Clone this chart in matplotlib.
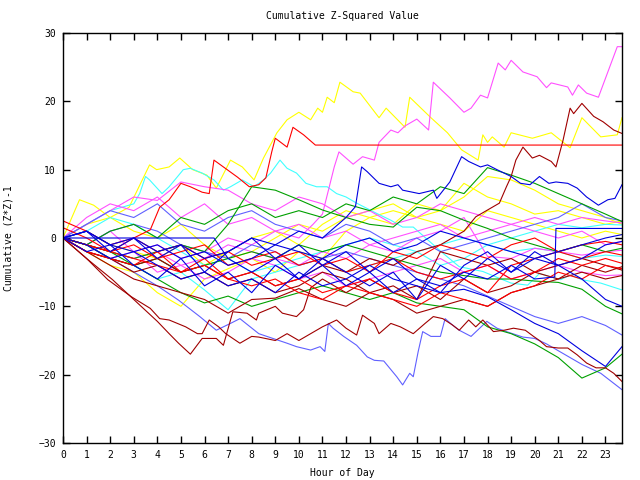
import matplotlib
matplotlib.use("Agg")
import matplotlib.pyplot as plt

# common hourly grid for the plainer series
hours = list(range(24)) + [23.7]

# --- series (values are cumulative (Z*Z)-1) ---
yellow_peak_hours = [0, 0.7, 1.3, 2, 2.8, 3.46, 3.67, 3.97, 4.5, 4.95, 5.5, 6.1, 6.5, 7.1, 7.6,
                     8.1, 8.5, 9.07, 9.5, 10, 10.5, 10.8, 11, 11.2, 11.5, 11.74, 12.3, 12.6, 13.4,
                     13.7, 14.5, 14.7, 15.6, 16.3, 16.9, 17.6, 17.8, 18, 18.2, 18.7, 19, 19.9, 20.7,
                     21.5, 22, 22.8, 23.5, 23.7]
yellow_peak = [0, 5.6, 4.8, 3, 4.5, 9.2, 10.7, 10, 10.4, 11.7, 10, 9.2, 7.3, 11.4, 10.4,
               8.5, 11.7, 15.4, 17.3, 18.4, 17.3, 19, 18.4, 20.6, 19.8, 22.8, 21.4, 21.2, 17.6,
               19, 16.2, 20.6, 17.6, 15.4, 12.9, 11.4, 15.1, 14, 14.8, 13.3, 15.4, 14.6, 15.4,
               13.2, 17.6, 14.8, 15.1, 17.6]

magenta_top_hours = [0, 1, 2, 3, 4, 5, 6, 7, 8, 9, 10, 10.6, 11, 11.5, 11.7, 12.3, 12.7, 13.2,
                     13.4, 13.9, 14.2, 14.5, 15.0, 15.5, 15.7, 16.4, 17.0, 17.3, 17.7, 18.0, 18.45,
                     18.75, 19.0, 19.5, 20.1, 20.5, 20.7, 21.4, 21.6, 21.85, 22.2, 22.7, 23.5, 23.7]
magenta_top = [0, -1, 1, -2, -1, -3, -2, 0, -1, 1, 0, 2, 3.5, 10.4, 12.6, 10.8, 11.9, 11.4,
               14, 15.8, 15.4, 16.4, 17.4, 15.8, 22.8, 20.5, 18.4, 19, 20.9, 20.5, 25.6,
               24.6, 26, 24.3, 23.6, 22, 22.7, 22.1, 20.9, 22.4, 21.2, 20.6, 28, 28]

red_flat_hours = [0, 1, 2, 3, 3.7, 4.1, 4.5, 5, 5.4, 5.9, 6.2, 6.4, 6.8, 7.4, 7.9, 8.3, 8.6,
                  8.85, 9.0, 9.5, 9.75, 10.2, 10.7, 23.7]
red_flat = [0, -1, -2, 0, 1.2, 4.5, 5.6, 8, 7.5, 6.7, 6.5, 11.4, 10.4, 8.9, 7.5, 7.8, 8.8,
            12.6, 14.6, 13.3, 16.2, 15.1, 13.6, 13.6]

darkred_rise_hours = [0, 1, 2, 3, 4, 5, 6, 7, 8, 9, 10, 11, 12, 13, 14, 15, 16, 17, 17.5, 18.0,
                      18.5, 18.8, 19.0, 19.2, 19.5, 19.9, 20.2, 20.7, 20.9, 21.2, 21.5, 21.65,
                      22.0, 22.5, 22.9, 23.35, 23.7]
darkred_rise = [0, -2, -3, -4, -3, -5, -4, -6, -5, -7, -6, -4, -5, -3, -4, -2, -1, 1, 3.1, 4.1,
                5.1, 7.5, 9, 11.4, 13.3, 11.7, 12.1, 11.2, 10.4, 14.3, 19, 18.2,
                19.7, 17.8, 17, 15.8, 15.3]

lightblue_low_hours = [0, 1, 2, 3, 4, 4.9, 5.8, 6.5, 7.1, 7.5, 8.3, 8.9, 9.5, 9.9, 10.5, 10.9,
                       11.1, 11.25, 11.45, 11.9, 12.45, 12.9, 13.2, 13.6, 14.15, 14.4, 14.7,
                       14.85, 15.06, 15.25, 15.6, 16.0, 16.2, 16.5, 16.8, 17.3, 17.97, 18.4,
                       18.8, 19.5, 20, 20.5, 21, 21.5, 22, 22.8, 23.7]
lightblue_low = [0, -1, -3, -5, -7, -9.1, -11.5, -13.5, -12.5, -11.8, -14, -14.7, -15.4, -15.9,
                 -16.4, -15.9, -16.6, -12.5, -13.2, -14.4, -15.7, -17.4, -17.9, -18, -20.3,
                 -21.5, -19.8, -20.3, -16.6, -13.7, -14.4, -14.4, -11.8, -12.7, -13.5, -14.4,
                 -12.2, -13.2, -13.7, -14.5, -14.7, -15.5, -16.5, -17.5, -18.5, -19.8, -22.2]

darkred_low_hours = [0, 1, 1.9, 2.9, 3.7, 4.1, 4.5, 5.2, 5.7, 5.9, 6.2, 6.6, 6.9, 7.5, 8.0, 8.3,
                     9, 9.5, 10, 10.5, 11, 11.6, 12, 12.45, 12.7, 13.2, 13.4, 13.9, 14.3, 14.85,
                     15.35, 15.7, 16.1, 16.5, 16.8, 17.2, 17.5, 17.8, 18.25, 18.7, 19.1, 19.6,
                     19.95, 20.2, 20.5, 21, 21.4, 21.8, 22.2, 22.6, 23, 23.35, 23.7]
darkred_low = [0, -3, -6.1, -8.6, -10.3, -11.8, -12, -13, -14, -14, -12, -13, -14, -15.4, -14.4,
               -14.5, -15, -14, -15, -14, -13, -12, -13.2, -14.2, -11.3, -12.5, -14, -12.5, -13,
               -14, -12.5, -11.5, -11.8, -12.7, -13.5, -12, -13, -12, -13.7, -13.5, -13.2, -13.5,
               -14.4, -15, -15.9, -16.1, -16.1, -17.1, -18.3, -19, -19, -19.8, -21]

darkred_dip_hours = [0, 1, 2.1, 3.25, 4, 4.5, 4.9, 5.4, 5.9, 6.5, 6.8, 7.2, 7.8, 8.2, 8.3, 9, 9.3,
                     9.9, 10.2, 10.5, 11, 12, 13, 14, 15, 16, 17, 18, 19, 20, 21, 22, 23, 23.7]
darkred_dip = [0, -3, -6.1, -9.8, -12.2, -14, -15.4, -17, -14.7, -14.7, -15.7, -10.8, -11, -12,
               -11, -10, -11, -11.5, -10.5, -7.3, -6, -8, -6, -8, -7, -9, -6, -8, -7, -5, -6,
               -4, -5, -4.2]

blue_peak_hours = [0, 1, 2, 3, 4, 5, 6, 7, 8, 9, 10, 11, 12, 12.4, 12.66, 12.9, 13.4, 13.9, 14.2,
                   14.4, 15.1, 15.7, 15.85, 16.4, 16.9, 17.2, 17.7, 18.0, 18.4, 19, 19.4, 19.8,
                   20.2, 20.6, 20.9, 21.4, 21.8, 22.2, 22.7, 23.1, 23.4, 23.7]
blue_peak = [0, 1, -1, 0, -2, -1, -3, -2, 0, -1, 1, 0, 3, 4.6, 10.4, 9.7, 8, 7.5, 7.8,
             7, 6.5, 7, 5.8, 8.2, 11.9, 11.2, 10.4, 10.7, 10, 9, 8, 7.8,
             9, 8, 8.2, 8, 7.3, 6, 4.8, 5.6, 5.8, 7.8]

blue_flat_hours = [0, 6.4, 7, 8, 9, 10, 11, 12, 13, 14, 15, 16, 17, 18, 19, 20, 20.85, 20.9, 23.7]
blue_flat = [0, 0, -3, -5, -3, -6, -4, -7, -5, -8, -6, -7, -5, -6, -4, -6, -5.7, 1.4, 1.4]

cyan_top_hours = [0, 1, 2, 3, 3.25, 3.5, 3.67, 4.2, 4.5, 5.1, 5.4, 5.9, 6.4, 6.8, 7.1, 7.6, 8.1,
                  8.5, 8.8, 9.2, 9.5, 9.9, 10.3, 10.75, 11.2, 11.6, 12, 12.45, 13.3, 13.9, 14.4,
                  14.85, 16.1, 16.8, 17.8, 18.5, 19, 19.7, 20.2, 21.1, 21.5, 22, 22.8, 23.7]
cyan_top = [0, 2, 4, 5, 6.5, 9, 8.5, 6.5, 7.5, 10, 10.2, 9.5, 8.5, 7, 7.5, 8.5, 7.5,
            8.5, 9.5, 11.4, 10.2, 9.5, 8, 7.5, 7.5, 6.5, 6, 5.1, 3.6, 2.6, 1.6,
            1.6, -2.2, -4.2, -4.9, -5.9, -6.6, -6.9, -5.2, -6.1, -5.4, -6.1, -6.6, -7.6]

# hourly series (one value per entry of `hours`)
yellow_dip = [0, -2, -4, -5, -8, -10, -6, -4.5, -3, -5, -2, -3, 1, 3, 4, 3, 2, 1, 4, 3, 2, 1, 0, 1, 0.5]
yellow_mid = [0, 2, 3, 1, 0, 2, -1, -3, -2, 0, 2, 1, 3, 4, 5, 3, 4, 8, 6, 5, 3.5, 4, 3, 2, 2.5]
yellow_late = [0, 1, -1, -2, -3, -1, -4, -2, 0, 1, -1, 2, 4, 3, 2, 5, 4, 6, 9, 8.5, 7, 5, 4, 3, 2]
green_late = [0, -1, 1, 2, 0, 3, 2, 4, 5, 3, 4, 3, 5, 4, 6, 5, 7.5, 6.5, 10.3, 9.2, 8, 6.5, 5, 3.5, 2.4]
green_mid = [0, -1, -2, -4, -3, -5, -4, -3, -2, -3, -1, -2, -1, -2, -3, -4, -5, -5.5, -6, -6, -6.3, -6.5, -7.5, -10, -11.1]
green_low = [0, -1, -3, -4, -6, -8, -9.5, -8.5, -10, -9, -8, -7, -8, -9, -8, -9.5, -10, -10.5, -13, -14, -15.5, -17.5, -20.5, -19, -17]
green_jump = [0, -1, -2, -3, -2, -1, -2, 2, 7.5, 7, 5.6, 4.1, 3, 2, 1.6, 4.5, 4, 2.6, 1.4, 0, -1, -2, -1, -2, -1.5]
blue_a = [0, 1, -1, -2, -1, -3, -2, -4, -3, -1, -2, -3, -1, 0, -2, -1, 1, 0, -1, -2, -3, -4, -6, -9, -10]
blue_b = [0, -1, -3, -2, -4, -6, -5, -7, -6, -8, -5, -7, -6, -4, -6, -7, -8, -7.5, -8.6, -10.5, -12.5, -14, -16.5, -18.8, -15.9]
blue_c = [0, -2, -1, -4, -6, -3, -7, -5, -8, -4, -6, -3, -5, -7, -5, -9, -4, -6, -3, -5, -2, -4, -3, -1, -0.5]
blue_d = [0, 1, -2, 0, -3, -1, -5, -2, 0, -3, -1, -4, -2, -5, -3, -6, -8, -4, -2, -5, -3, -2, -1, 0, 0.5]
lightblue_mid = [0, -1, 1, 2, 1, -1, -2, -3, -1, -2, -4, -3, -2, -3, -4, -5, -6, -7, -8.5, -10, -11.5, -12.5, -11.5, -12.8, -14.2]
lightblue_high = [0, 2, 4, 3, 5, 2, 1, 3, 4, 2, 1, 0, 2, 1, -1, 0, -2, -1, 0, 1, 2, 3, 5, 3, 2.5]
magenta_a = [0, 3, 5, 4, 6, 3, 5, 2, 3, 1, 2, 0, 1, -1, 0, 1, 2, 0, 1, 2, 3, 2, 3, 2.5, 2.2]
magenta_b = [0, -1, -2, -3, -2, -4, -3, -1, -2, -3, -4, -2, -3, -1, -2, 0, 1, 3, -2.7, -3, -1.5, -2, -2.5, -2, -1.8]
magenta_c = [0, -1, -3, -2, -5, -4, -6, -5, -3, -4, -6, -5, -7, -6, -5, -4, -3, -5, -4, -6, -5, -4, -5, -5.5, -5.4]
magenta_d = [0, 2, 4, 6, 5.5, 8.2, 7.5, 7, 5, 4, 6, 5, 3, 4, 2, 3, 5, 4, 3, 2, 1, 0, 1, -1, -0.5]
cyan_a = [0, 1, 3, 2, 0, -2, -4, -3, -5, -4, -3, -2, -1, 0, -1, -2, -1, 0, -1, -2, -1.5, -2, -3, -2.5, -2.7]
cyan_b = [0, -1, -3, -4, -6, -5, -7.6, -10.5, -6, -5, -4, -3, -5, -4, -3, -2, -4, -3, -1, 0, 1, 2, 1.5, 2, 1.9]
red_a = [2.5, 1, -1, 0, -2, -1, -3, -2, -4, -3, -2, -4, -3, -5, -2, -3, -1, -2, -3, -1, 0, -2, -1, -0.5, -1]
red_b = [0, -2, -3, -4, -2, -5, -4, -6, -5, -7, -6, -8, -7, -6, -8, -9, -7, -6, -8, -4, -3, -2, -3, -2, -2.5]
red_c = [0, -1, -2, -1, -3, -2, -1, -4, -3, -2, -4, -3, -5, -4, -3, -5, -6, -5, -4, -6, -5, -3, -4, -3, -3.7]
red_d = [1.5, 0, -2, -3, -4, -5, -3, -6, -7, -6, -8, -9, -7, -8, -9, -10, -8, -9, -10, -8, -7, -5, -6, -4, -4.5]
darkred_a = [0, -2, -3, -5, -4, -6, -5, -7, -6, -8, -7, -5, -6, -8, -7, -9, -2, -3, -4, -3, -5, -4, -3, -4, -4.7]
darkred_b = [0, -2, -4, -6, -7, -8, -9, -11, -9, -8.8, -7.4, -9, -10, -8, -9, -11, -10, -9, -10, -8, -7, -6, -5, -6, -5.5]

# gnuplot-like line colours
RED, DRED, GREEN, BLUE = '#ff0000', '#a00000', '#00a000', '#0000e0'
LBLUE, MAG, CYAN, YEL = '#6060ff', '#ff50ff', '#40ffff', '#ffff00'

series = [
    (hours, yellow_dip, YEL), (hours, yellow_mid, YEL), (hours, yellow_late, YEL),
    (yellow_peak_hours, yellow_peak, YEL),
    (cyan_top_hours, cyan_top, CYAN), (hours, cyan_a, CYAN), (hours, cyan_b, CYAN),
    (magenta_top_hours, magenta_top, MAG), (hours, magenta_a, MAG), (hours, magenta_b, MAG),
    (hours, magenta_c, MAG), (hours, magenta_d, MAG),
    (lightblue_low_hours, lightblue_low, LBLUE), (hours, lightblue_mid, LBLUE),
    (hours, lightblue_high, LBLUE),
    (hours, green_late, GREEN), (hours, green_mid, GREEN), (hours, green_low, GREEN),
    (hours, green_jump, GREEN),
    (darkred_rise_hours, darkred_rise, DRED), (darkred_low_hours, darkred_low, DRED),
    (darkred_dip_hours, darkred_dip, DRED), (hours, darkred_a, DRED), (hours, darkred_b, DRED),
    (red_flat_hours, red_flat, RED), (hours, red_a, RED), (hours, red_b, RED),
    (hours, red_c, RED), (hours, red_d, RED),
    (blue_peak_hours, blue_peak, BLUE), (blue_flat_hours, blue_flat, BLUE),
    (hours, blue_a, BLUE), (hours, blue_b, BLUE), (hours, blue_c, BLUE), (hours, blue_d, BLUE),
]

plt.rcParams['font.family'] = ['DejaVu Sans Mono']
fig = plt.figure(figsize=(6.4, 4.8), dpi=100)
ax = fig.add_axes([63 / 640, 37 / 480, 559 / 640, 410 / 480])

for xs, ys, col in series:
    ax.plot(xs, ys, color=col, linewidth=0.8)

ax.set_xlim(0, 23.7)
ax.set_ylim(-30, 30)
ax.set_xticks(range(24))
ax.set_yticks(range(-30, 31, 10))
ax.tick_params(direction='in', length=5, width=1, top=True, right=True,
               labelsize=7, pad=5)
for sp in ax.spines.values():
    sp.set_linewidth(1)

ax.set_title('Cumulative Z-Squared Value', fontsize=7, pad=10)
ax.set_xlabel('Hour of Day', fontsize=7, labelpad=6)
ax.set_ylabel('Cumulative (Z*Z)-1', fontsize=7, labelpad=18)

fig.savefig('out.png', dpi=100)
